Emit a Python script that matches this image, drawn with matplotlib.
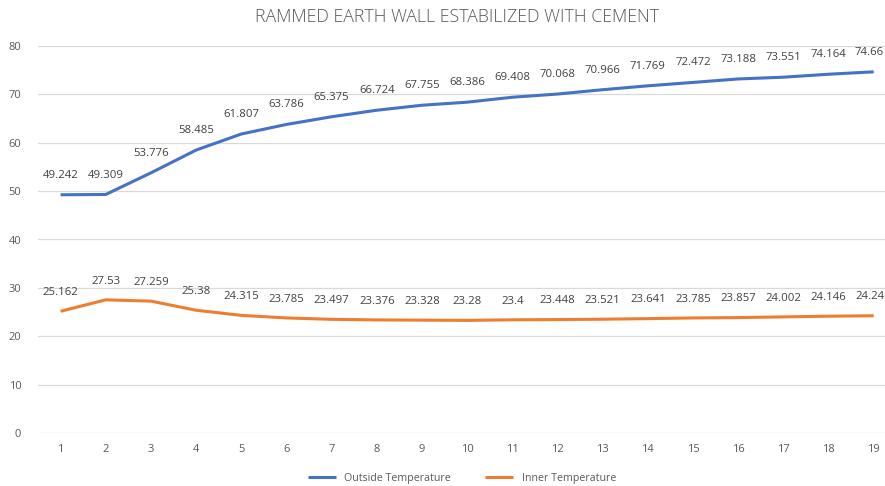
import matplotlib
matplotlib.use("Agg")
import matplotlib.pyplot as plt

categories = list(range(1, 20))
outside = [49.242, 49.309, 53.776, 58.485, 61.807, 63.786, 65.375, 66.724, 67.755, 68.386,
           69.408, 70.068, 70.966, 71.769, 72.472, 73.188, 73.551, 74.164, 74.66]
inner = [25.162, 27.53, 27.259, 25.38, 24.315, 23.785, 23.497, 23.376, 23.328, 23.28,
         23.4, 23.448, 23.521, 23.641, 23.785, 23.857, 24.002, 24.146, 24.24]
outside_labels = ["49.242", "49.309", "53.776", "58.485", "61.807", "63.786", "65.375", "66.724",
                  "67.755", "68.386", "69.408", "70.068", "70.966", "71.769", "72.472", "73.188",
                  "73.551", "74.164", "74.66"]
inner_labels = ["25.162", "27.53", "27.259", "25.38", "24.315", "23.785", "23.497", "23.376",
                "23.328", "23.28", "23.4", "23.448", "23.521", "23.641", "23.785", "23.857",
                "24.002", "24.146", "24.24"]
yticks = [0, 10, 20, 30, 40, 50, 60, 70, 80]

plt.rcParams['font.family'] = ['Open Sans', 'DejaVu Sans']
txt = '#595959'
blue = '#4472C4'
orange = '#ED7D31'

fig = plt.figure(figsize=(8.85, 4.86), dpi=100)
ax = fig.add_axes([38/885, 53/486, 847/885, 387/486])

l1, = ax.plot(categories, outside, color=blue, lw=2.2, solid_capstyle='butt', label='Outside Temperature')
l2, = ax.plot(categories, inner, color=orange, lw=2.2, solid_capstyle='butt', label='Inner Temperature')

n = len(categories)
for i, (x, y, s) in enumerate(zip(categories, outside, outside_labels)):
    dx = -3 if i == n - 1 else 0
    ax.annotate(s, (x, y), xytext=(dx, 14), textcoords='offset points', ha='center', va='center',
                fontsize=8.2, color='#404040', annotation_clip=False)
for i, (x, y, s) in enumerate(zip(categories, inner, inner_labels)):
    dx = -3 if i == n - 1 else 0
    ax.annotate(s, (x, y), xytext=(dx, 13.5), textcoords='offset points', ha='center', va='center',
                fontsize=8.2, color='#404040', annotation_clip=False)

ax.set_xlim(0.5, 19.25)
ax.set_ylim(0, 80)
ax.set_yticks(yticks)
ax.set_xticks(categories)
ax.grid(axis='y', color='#D9D9D9', lw=0.9)
ax.set_axisbelow(True)
for sp in ax.spines.values():
    sp.set_visible(False)
ax.tick_params(axis='both', length=0, labelsize=8, colors=txt)
ax.tick_params(axis='x', pad=8)
ax.tick_params(axis='y', pad=12)

fig.text(0.516, 0.965, 'RAMMED EARTH WALL ESTABILIZED WITH CEMENT', ha='center', va='center',
         fontsize=12.8, color=txt, fontweight='light')

fig.legend(handles=[l1, l2], loc='center', bbox_to_anchor=(0.522, 0.016), ncol=2, frameon=False,
           fontsize=7.7, labelcolor=txt, handlelength=2.6, columnspacing=3.2)

fig.savefig('out.png', dpi=100, facecolor='white')
